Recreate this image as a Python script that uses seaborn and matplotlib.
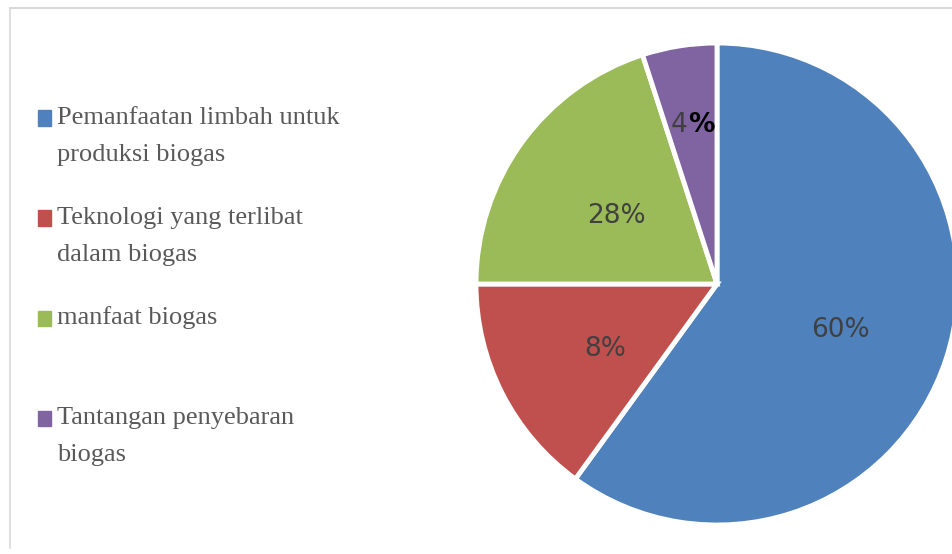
import matplotlib
matplotlib.use("Agg")
import matplotlib.pyplot as plt
import seaborn as sns
import numpy as np
from matplotlib.patches import Rectangle
from matplotlib.lines import Line2D

# slice sizes as drawn, and the labels printed on them (they do not agree in the source)
categories = [
    "Pemanfaatan limbah untuk\nproduksi biogas",
    "Teknologi yang terlibat\ndalam biogas",
    "manfaat biogas",
    "Tantangan penyebaran\nbiogas",
]
slice_sizes = [60, 15, 20, 5]
slice_labels = ["60%", "8%", "28%", "4"]
colors = ["#4F81BD", "#C0504D", "#9BBB59", "#8064A2"]

sns.set_theme(style="white")
plt.rcParams["font.family"] = ["DejaVu Sans"]

W, H = 952, 554
fig = plt.figure(figsize=(W / 100, H / 100), dpi=100)

# pie axes: centre ~ (717, 284) px, radius ~241 px
r = 241
cx, cy = 717, 284
ax = fig.add_axes([(cx - r) / W, (H - cy - r) / H, 2 * r / W, 2 * r / H])

it = iter(slice_labels)
wedges, texts, autotexts = ax.pie(
    slice_sizes,
    colors=colors,
    startangle=90,
    counterclock=False,
    autopct=lambda p: next(it),
    pctdistance=0.53,
    wedgeprops=dict(edgecolor="white", linewidth=3.5),
    textprops=dict(color="#404040", fontsize=19),
)
ax.set_xlim(-1, 1)
ax.set_ylim(-1, 1)
ax.set_aspect("equal")
ax.axis("off")

# nudge labels down a little (Calibri sits lower than DejaVu)
for t in autotexts[:3]:
    x, y = t.get_position()
    t.set_position((x + 0.01, y - 0.028))

# small slice label sits further out
w = wedges[3]
mid = np.deg2rad((w.theta1 + w.theta2) / 2)
autotexts[3].set_position((0.68 * np.cos(mid) - 0.05, 0.68 * np.sin(mid) - 0.01))
ax.annotate("%", xy=(1, 0), xycoords=autotexts[3], va="bottom", ha="left",
            fontsize=19, fontweight="bold", color="black")

# legend drawn by hand, Excel style
legend_font = dict(family="Liberation Serif", fontsize=19, color="#595959")
ys = [118, 218, 318, 418]
for lab, col, y in zip(categories, colors, ys):
    fig.patches.append(Rectangle(((38) / W, (H - y - 7.5) / H), 13 / W, 15 / H,
                                 transform=fig.transFigure, color=col))
    for k, line in enumerate(lab.split("\n")):
        fig.text(57 / W, (H - y - 37 * k) / H, line, va="center", ha="left", **legend_font)

# chart frame remnants
fig.add_artist(Line2D([9.5 / W, 1], [1 - 8 / H, 1 - 8 / H], color="#D9D9D9", lw=1.5))
fig.add_artist(Line2D([9.5 / W, 9.5 / W], [1 - 8 / H, 1 - 548 / H], color="#D9D9D9", lw=1.2))

fig.savefig("out.png", dpi=100)
